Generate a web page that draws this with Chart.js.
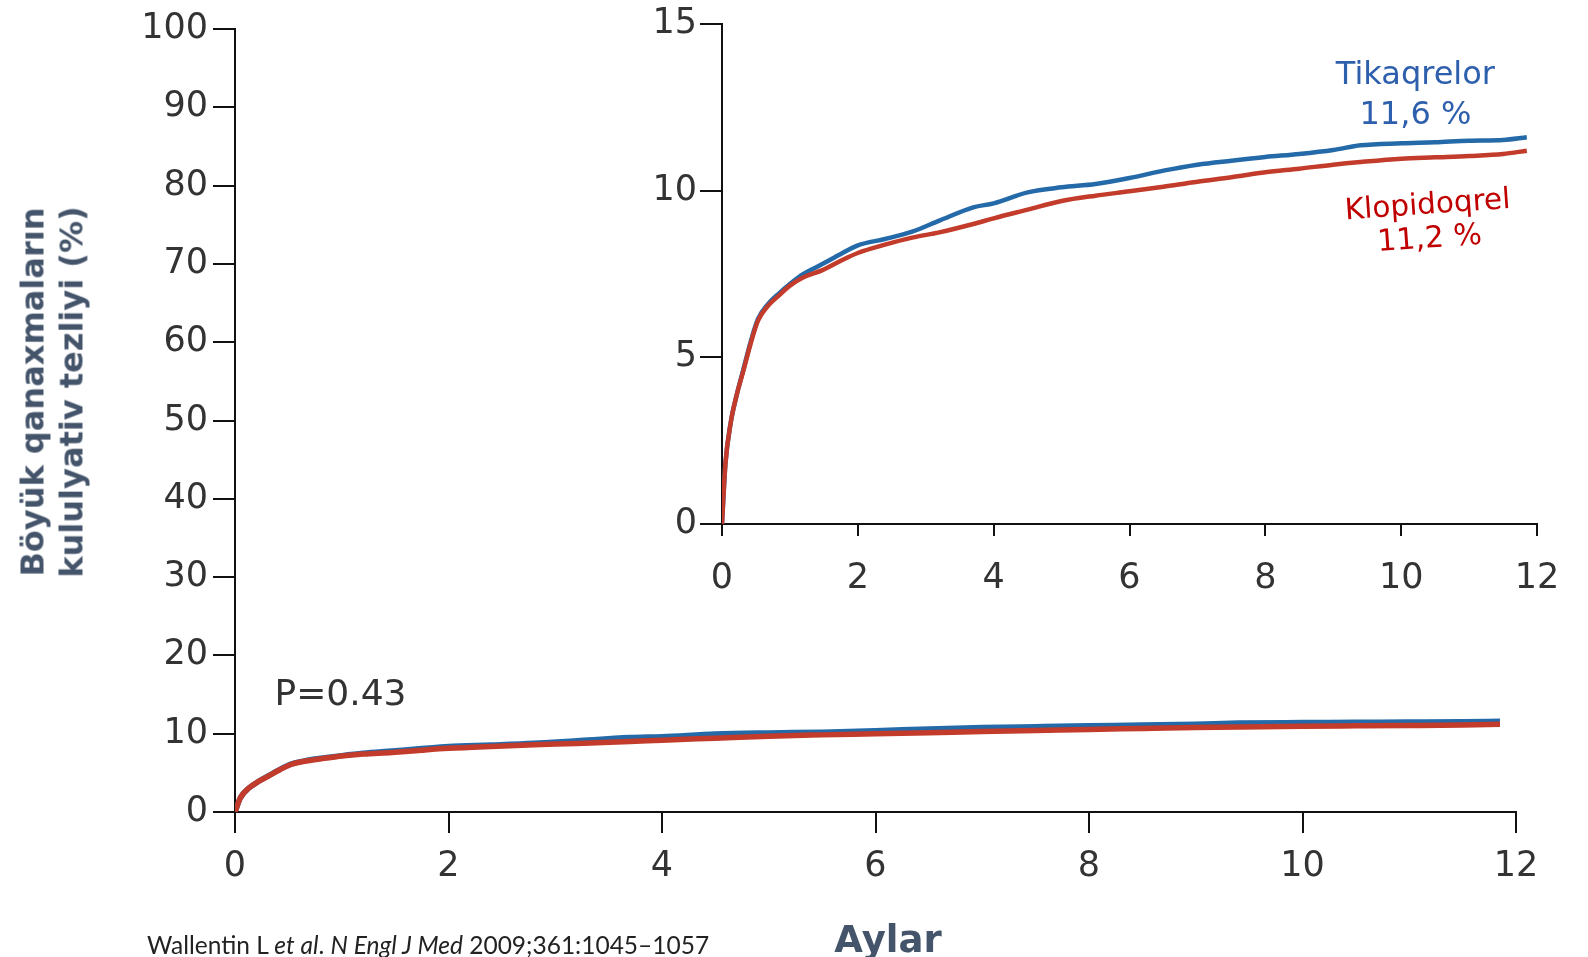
<!DOCTYPE html>
<html>
<head>
<meta charset="utf-8">
<script src="https://cdn.jsdelivr.net/npm/chart.js@4.4.1/dist/chart.umd.min.js"></script>
<style>
    html, body { margin: 0; padding: 0; background: #fff; }
    #wrap { position: relative; width: 1588px; height: 957px; overflow: hidden; }
    #mainChart { position: absolute; left: 0; top: 0; }
    #insetChart { position: absolute; left: 600px; top: 0; }
    .axis-title {
        position: absolute; transform: translate(-50%, -50%);
        font-family: "DejaVu Sans", sans-serif; font-weight: bold; color: #44546a;
        white-space: nowrap; text-align: center;
    }
    #yTitle { left: 52px; top: 392px; font-size: 32px; line-height: 38.5px;
              transform: translate(-50%, -50%) rotate(-90deg); }
    #xTitle { left: 888px; top: 939px; font-size: 37px; line-height: 1; }
    #source {
        position: absolute; left: 147px; top: 933px; line-height: 1;
        font-family: Lato, "Open Sans", sans-serif; font-size: 24.5px; color: #222;
        white-space: nowrap;
    }
</style>
</head>
<body>
<div id="wrap">
    <canvas id="mainChart" width="1588" height="957"></canvas>
    <canvas id="insetChart" width="988" height="620"></canvas>
    <div id="yTitle" class="axis-title"></div>
    <div id="xTitle" class="axis-title"></div>
    <div id="source">Wallentin L <i>et al</i>. <i>N Engl J Med</i> 2009;361:1045–1057</div>
</div>
<script>
// aylar (x) ve iki qrupun kumulyativ tezliyi (%)
const months = [0, 0.05, 0.13, 0.22, 0.31, 0.42, 0.53, 0.68, 0.84, 1.0, 1.2, 1.47, 1.75, 2.0, 2.4, 2.8,
    3.2, 3.7, 4.0, 4.5, 5.0, 5.5, 6.0, 6.5, 7.0, 7.5, 8.0, 8.5, 9.0, 9.4, 10.0, 10.5, 11.0, 11.5, 11.85];
const tikaqrelor = [0, 1.8, 3.06, 3.9, 4.6, 5.45, 6.15, 6.6, 6.92, 7.2, 7.5, 7.79, 8.1, 8.36, 8.55, 8.77,
    9.1, 9.5, 9.62, 9.95, 10.1, 10.2, 10.38, 10.6, 10.78, 10.9, 11.01, 11.1, 11.22, 11.36, 11.42, 11.45, 11.5, 11.52, 11.6];
const klopidoqrel = [0, 1.8, 3.06, 3.9, 4.56, 5.4, 6.1, 6.55, 6.86, 7.15, 7.4, 7.61, 7.9, 8.13, 8.38, 8.59,
    8.75, 9.0, 9.17, 9.43, 9.69, 9.85, 9.98, 10.12, 10.27, 10.4, 10.55, 10.66, 10.78, 10.86, 10.96, 11.0, 11.04, 11.1, 11.2];

const seriesNames = ['Tikaqrelor', 'Klopidoqrel'];
const seriesEndLabels = ['11,6 %', '11,2 %'];
const yTitle = ['Böyük qanaxmaların', 'kululyativ tezliyi (%)'];
const xTitle = 'Aylar';
const pValue = 'P=0.43';

const BLUE = '#2469a8';
const RED = '#c23b2b';
const tickFont = { family: 'DejaVu Sans', size: 35 };

document.getElementById('yTitle').innerHTML = yTitle.join('<br>');
document.getElementById('xTitle').textContent = xTitle;

function toPoints(vals) {
    return months.map((m, i) => ({ x: m, y: vals[i] }));
}

function makeDatasets(width) {
    return [
        { label: seriesNames[1], data: toPoints(klopidoqrel), borderColor: RED, order: 0,
          borderWidth: width, pointRadius: 0, cubicInterpolationMode: 'monotone' },
        { label: seriesNames[0], data: toPoints(tikaqrelor), borderColor: BLUE, order: 1,
          borderWidth: width, pointRadius: 0, cubicInterpolationMode: 'monotone' }
    ];
}

// yazıları data koordinatlarında çəkən kiçik plugin
function textNotes(items) {
    return {
        id: 'textNotes',
        afterDatasetsDraw(chart) {
            const { ctx, scales: { x, y } } = chart;
            items.forEach(n => {
                ctx.save();
                ctx.translate(x.getPixelForValue(n.x), y.getPixelForValue(n.y));
                ctx.rotate((n.rotate || 0) * Math.PI / 180);
                ctx.font = n.font;
                ctx.fillStyle = n.color;
                ctx.textAlign = n.align || 'center';
                ctx.textBaseline = 'middle';
                ctx.fillText(n.text, 0, 0);
                ctx.restore();
            });
        }
    };
}

function axis(min, max, step, tickLen, pad, fit) {
    return {
        type: 'linear', min: min, max: max,
        ticks: { stepSize: step, font: tickFont, color: '#333', padding: pad, maxRotation: 0 },
        grid: { drawOnChartArea: false, tickLength: tickLen, color: '#111', lineWidth: 2 },
        border: { color: '#111', width: 2 },
        afterFit: fit
    };
}

new Chart(document.getElementById('mainChart'), {
    type: 'line',
    data: { datasets: makeDatasets(5.5) },
    options: {
        responsive: false,
        animation: false,
        layout: { padding: { top: 29, right: 72, bottom: 0, left: 0 } },
        scales: {
            x: axis(0, 12, 2, 21, 13, s => { s.height = 145; }),
            y: axis(0, 100, 10, 22, 5, s => { s.width = 235; })
        },
        plugins: { legend: { display: false }, tooltip: { enabled: false } }
    },
    plugins: [textNotes([
        { text: pValue, x: 0.37, y: 14.8, align: 'left', color: '#333', font: '36px "DejaVu Sans"' }
    ])]
});

new Chart(document.getElementById('insetChart'), {
    type: 'line',
    data: { datasets: makeDatasets(4.5) },
    options: {
        responsive: false,
        animation: false,
        layout: { padding: { top: 24, right: 51, bottom: 0, left: 0 } },
        scales: {
            x: axis(0, 12, 2, 12, 22, s => { s.height = 96; }),
            y: axis(0, 15, 5, 22, 3, s => { s.width = 122; })
        },
        plugins: { legend: { display: false }, tooltip: { enabled: false } }
    },
    plugins: [textNotes([
        { text: seriesNames[0], x: 10.21, y: 13.45, color: '#2e5fad', font: '32px "DejaVu Sans"' },
        { text: seriesEndLabels[0], x: 10.21, y: 12.26, color: '#2e5fad', font: '32px "DejaVu Sans"' },
        { text: seriesNames[1], x: 10.39, y: 9.54, rotate: -4, color: '#c00000', font: '29.5px "DejaVu Sans"' },
        { text: seriesEndLabels[1], x: 10.42, y: 8.53, rotate: -4, color: '#c00000', font: '30px "DejaVu Sans"' }
    ])]
});
</script>
</body>
</html>
